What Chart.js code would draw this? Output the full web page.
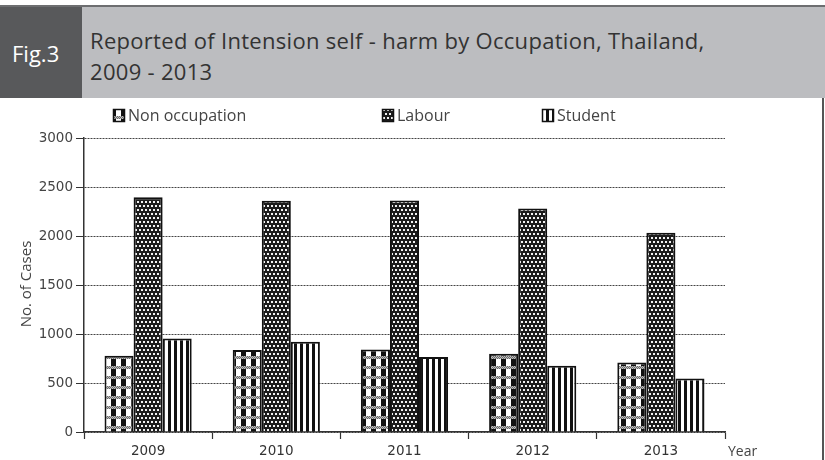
<!DOCTYPE html>
<html>
<head>
<meta charset="utf-8">
<script src="https://cdn.jsdelivr.net/npm/chart.js@4.4.0/dist/chart.umd.min.js"></script>
<style>
  body { margin:0; background:#fff; width:825px; height:460px; overflow:hidden; position:relative; font-family:"Open Sans", sans-serif; }
  #topline { position:absolute; left:0; top:5px; width:825px; height:2px; background:#6d6e70; }
  #figbox { position:absolute; left:0; top:7px; width:82px; height:91px; background:#58595b; color:#fff; font-size:22px; }
  #figbox span { position:absolute; left:12px; top:31px; line-height:30px; }
  #titlebox { position:absolute; left:82px; top:7px; width:743px; height:91px; background:#bcbdc0; color:#333; }
  #title { position:absolute; left:8px; top:18px; font-size:22px; letter-spacing:0.3px; line-height:31px; white-space:nowrap; }
  #rightline { position:absolute; left:822px; top:98px; width:2px; height:362px; background:#555; }
  #wrap { position:absolute; left:0; top:0; width:825px; height:460px; }
</style>
</head>
<body>
<div id="wrap"><canvas id="chart" width="825" height="460"></canvas></div>
<div id="topline"></div>
<div id="figbox"><span>Fig.3</span></div>
<div id="titlebox"><div id="title">Reported of Intension self - harm by Occupation, Thailand,<br>2009 - 2013</div></div>
<div id="rightline"></div>
<script>
// data
var years = ['2009', '2010', '2011', '2012', '2013'];
var seriesNames = ['Non occupation', 'Labour', 'Student'];
var nonOccupation = [778, 836, 843, 798, 710];
var labour = [2395, 2360, 2362, 2280, 2034];
var student = [955, 921, 766, 677, 545];
var yMin = 0, yMax = 3000, yStep = 500;

// hatch patterns like the printed figure
function makePattern(kind) {
  var c = document.createElement('canvas');
  var g = c.getContext('2d');
  if (kind == 'check') {
    c.width = 10; c.height = 10;
    g.fillStyle = '#fff'; g.fillRect(0, 0, 10, 10);
    g.fillStyle = '#111'; g.fillRect(1, 0, 5, 10);
    for (var x = 0; x < 10; x++) {
      for (var y = 6; y < 9; y++) {
        g.fillStyle = ((x + y) % 2) ? '#6a6a6a' : '#bdbdbd';
        g.fillRect(x, y, 1, 1);
      }
    }
  } else if (kind == 'dots') {
    c.width = 8; c.height = 8;
    g.fillStyle = '#1c1c1c'; g.fillRect(0, 0, 8, 8);
    g.fillStyle = '#f2f2f2';
    g.fillRect(1, 1, 2, 2); g.fillRect(5, 1, 2, 2);
    g.fillRect(3, 5, 2, 2); g.fillRect(7, 5, 1, 2); g.fillRect(0, 5, 1, 2);
  } else {
    c.width = 6; c.height = 6;
    g.fillStyle = '#fff'; g.fillRect(0, 0, 6, 6);
    g.fillStyle = '#111'; g.fillRect(0, 0, 3, 6);
  }
  return g.createPattern(c, 'repeat');
}

var ctx0 = document.getElementById('chart').getContext('2d');
var fills = [makePattern('check'), makePattern('dots'), makePattern('stripes')];

var extras = {
  id: 'extras',
  afterDraw: function(chart) {
    var ctx = chart.ctx;
    ctx.save();
    // legend
    var legendX = [113, 382, 542];
    ctx.textBaseline = 'middle';
    ctx.font = '16px "Open Sans"';
    for (var i = 0; i < seriesNames.length; i++) {
      ctx.fillStyle = fills[i];
      ctx.fillRect(legendX[i], 109, 12, 13);
      ctx.strokeStyle = '#111';
      ctx.lineWidth = 1.5;
      ctx.strokeRect(legendX[i] + 0.5, 109.5, 11, 12);
      ctx.fillStyle = '#444';
      ctx.fillText(seriesNames[i], legendX[i] + 15, 116);
    }
    // y title
    ctx.save();
    ctx.translate(27, 284);
    ctx.rotate(-Math.PI / 2);
    ctx.textAlign = 'center';
    ctx.font = '15px "Open Sans"';
    ctx.fillStyle = '#444';
    ctx.fillText('No. of Cases', 0, 0);
    ctx.restore();
    // x title
    ctx.font = '14px "Open Sans"';
    ctx.fillStyle = '#444';
    ctx.textAlign = 'left';
    ctx.fillText('Year', 728, 452);
    ctx.restore();
  }
};

var chart = new Chart(ctx0, {
  type: 'bar',
  data: {
    labels: years,
    datasets: [
      { label: seriesNames[0], data: nonOccupation, backgroundColor: fills[0], borderColor: '#111', borderWidth: 2 },
      { label: seriesNames[1], data: labour, backgroundColor: fills[1], borderColor: '#111', borderWidth: 2 },
      { label: seriesNames[2], data: student, backgroundColor: fills[2], borderColor: '#111', borderWidth: 2 }
    ]
  },
  options: {
    responsive: false,
    animation: false,
    layout: { padding: { top: 138, right: 100, left: 0, bottom: 0 } },
    datasets: { bar: { categoryPercentage: 0.68, barPercentage: 1.0 } },
    plugins: { legend: { display: false }, tooltip: { enabled: false } },
    scales: {
      x: {
        grid: { offset: true, drawOnChartArea: false, drawTicks: true, tickLength: 7, tickColor: '#333', tickWidth: 1.2 },
        border: { color: '#333', width: 1.5 },
        ticks: { color: '#333', font: { family: 'DejaVu Sans', size: 13.5 }, padding: 4 },
        afterFit: function(s) { s.height = 28; }
      },
      y: {
        min: yMin, max: yMax,
        ticks: {
          stepSize: yStep, color: '#444', font: { family: 'DejaVu Sans', size: 13.5 }, padding: 3,
          callback: function(v) { return String(v); }
        },
        grid: { color: '#444', lineWidth: 1, tickLength: 8, tickColor: '#333', tickBorderDash: [] },
        border: { color: '#333', width: 1.5, dash: [2, 1] },
        afterFit: function(s) { s.width = 84; }
      }
    }
  },
  plugins: [extras]
});
</script>
</body>
</html>
